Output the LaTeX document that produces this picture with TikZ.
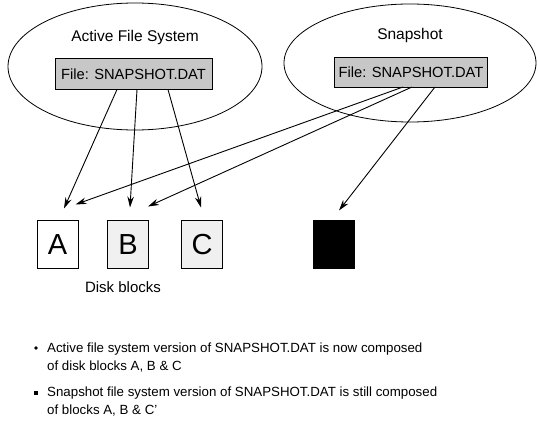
\documentclass[tikz,border=0pt]{standalone}
\usepackage{fontspec}
\setmainfont{Liberation Sans}
\usetikzlibrary{arrows.meta,shapes.geometric}
\tikzset{
  fsell/.style={ellipse, draw, line width=0.8pt, inner sep=0pt, outer sep=0pt},
  filebox/.style={draw, line width=0.9pt, fill=black!22, minimum width=157pt, minimum height=31pt, inner sep=0pt, outer sep=0pt, font=\fontsize{14.7}{16}\selectfont},
  title/.style={font=\fontsize{15.5}{18}\selectfont, inner sep=0pt},
  blockbox/.style={draw, line width=0.9pt, minimum width=41pt, minimum height=48pt, inner sep=0pt, outer sep=0pt, font=\fontsize{29}{30}\selectfont},
  arr/.style={line width=0.9pt, -{Stealth[length=11pt,width=6.5pt]}},
  bodytext/.style={font=\fontsize{13.3}{17.5}\selectfont, align=left, inner sep=0pt, anchor=base west}
}
\begin{document}
\begin{tikzpicture}[x=1pt,y=-1pt]
\useasboundingbox (0,0) rectangle (538,425);
\fill[white] (0,0) rectangle (538,425);
% ellipses
\node[fsell, minimum width=254pt, minimum height=127pt] (afs) at (135,66.5) {};
\node[fsell, minimum width=252pt, minimum height=118pt] (snap) at (410,63) {};
\node[title] (afslbl) at (135,37) {Active File System};
\node[title] (snaplbl) at (410,35) {Snapshot};
% file boxes
\node[filebox] (af) at (133.5,74) {File: SNAPSHOT.DAT};
\node[filebox, minimum width=153pt, minimum height=30pt] (sf) at (411,72) {File: SNAPSHOT.DAT};
% disk blocks
\node[blockbox, fill=white] (A) at (57.5,244.5) {A};
\node[blockbox, fill=black!6] (B) at (128,244.5) {B};
\node[blockbox, fill=black!6] (C) at (202,244.5) {C};
\node[blockbox, fill=black] (D) at (334,244.5) {};
\node[title, font=\fontsize{15}{18}\selectfont] (dbl) at (123,287) {Disk blocks};
% start points
\coordinate (a1) at ([xshift=-16.5pt]af.south);
\coordinate (a2) at ([xshift=3.5pt]af.south);
\coordinate (a3) at ([xshift=34.5pt]af.south);
\coordinate (s1) at ([xshift=-8pt]sf.south);
\coordinate (s2) at ([xshift=1pt]sf.south);
\coordinate (s3) at ([xshift=24pt]sf.south);
% arrows
\draw[arr] (a1) -- ([xshift=6.5pt,yshift=12pt]A.north);
\draw[arr] (a2) -- ([xshift=2pt,yshift=13pt]B.north);
\draw[arr] (a3) -- ([xshift=-1pt,yshift=13pt]C.north);
\draw[arr] (s1) -- ([xshift=18pt,yshift=16pt]A.north);
\draw[arr] (s2) -- ([xshift=20pt,yshift=14pt]B.north);
\draw[arr] (s3) -- ([xshift=5pt,yshift=10pt]D.north);
% bullets
\node[circle, fill, inner sep=1.4pt] (b1) at (36,348) {};
\node[rectangle, fill, inner sep=1.6pt] (b2) at (36,393) {};
\node[bodytext] (t1) at (47,370) {Active file system version of SNAPSHOT.DAT is now composed\\of disk blocks A, B \& C};
\node[bodytext] (t2) at (47,414) {Snapshot file system version of SNAPSHOT.DAT is still composed\\of blocks A, B \& C'};
\end{tikzpicture}
\end{document}
